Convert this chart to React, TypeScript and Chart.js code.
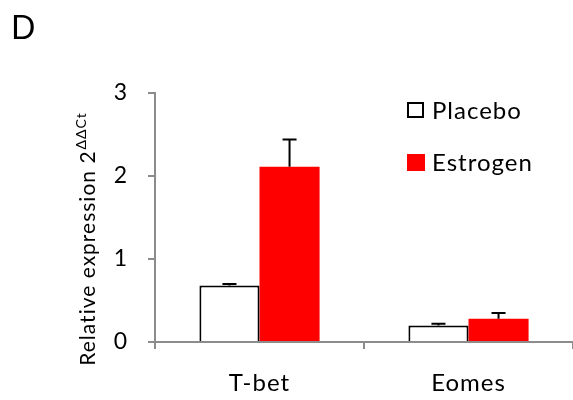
import React, { useEffect, useRef } from "react";
import { Chart, registerables } from "chart.js";

Chart.register(...registerables);

const categories = ["T-bet", "Eomes"];
const placeboValues = [0.68, 0.2];
const placeboErrors = [0.02, 0.02];
const estrogenValues = [2.11, 0.28];
const estrogenErrors = [0.33, 0.07];
const yTickValues = [0, 1, 2, 3];
const seriesLabels = ["Placebo", "Estrogen"];
const panelLetter = "D";
const yTitleMain = "Relative expression 2";
const yTitleSup = "ΔΔCt";

const FONT = "Lato, 'Open Sans', sans-serif";
const AXIS_GRAY = "#8c8c8c";

const spacingPlugin = {
  id: "spacing",
  beforeDraw(chart: any) {
    chart.ctx.letterSpacing = "1px";
  },
};

const errorBarPlugin = {
  id: "errorBars",
  afterDatasetsDraw(chart: any) {
    const ctx = chart.ctx;
    const y = chart.scales.y;
    chart.data.datasets.forEach((ds: any, di: number) => {
      const meta = chart.getDatasetMeta(di);
      meta.data.forEach((bar: any, i: number) => {
        const v = ds.data[i];
        const e = ds.errors[i];
        const yTop = y.getPixelForValue(v + e);
        const yBase = y.getPixelForValue(v);
        ctx.save();
        ctx.strokeStyle = "#000";
        ctx.lineWidth = 2;
        ctx.beginPath();
        ctx.moveTo(bar.x, yBase);
        ctx.lineTo(bar.x, yTop);
        ctx.moveTo(bar.x - 7, yTop);
        ctx.lineTo(bar.x + 7, yTop);
        ctx.stroke();
        ctx.restore();
      });
    });
  },
};

const decorPlugin = {
  id: "decor",
  afterDraw(chart: any) {
    const ctx = chart.ctx;
    ctx.save();
    ctx.letterSpacing = "0px";
    // panel letter
    ctx.fillStyle = "#000";
    ctx.font = `32px ${FONT}`;
    ctx.textBaseline = "alphabetic";
    ctx.textAlign = "left";
    ctx.fillText(panelLetter, 11, 39);

    // y title (rotated with superscript)
    ctx.letterSpacing = "1px";
    ctx.font = `21px ${FONT}`;
    const wMain = ctx.measureText(yTitleMain).width;
    ctx.font = `14px ${FONT}`;
    const wSup = ctx.measureText(yTitleSup).width;
    const total = wMain + wSup + 1;
    ctx.translate(95, 239);
    ctx.rotate(-Math.PI / 2);
    ctx.font = `21px ${FONT}`;
    ctx.fillText(yTitleMain, -total / 2, 0);
    ctx.font = `14px ${FONT}`;
    ctx.fillText(yTitleSup, -total / 2 + wMain + 1, -9);
    ctx.restore();

    // legend
    ctx.save();
    ctx.letterSpacing = "1px";
    const datasets = chart.data.datasets;
    ctx.font = `24px ${FONT}`;
    ctx.textBaseline = "middle";
    ctx.textAlign = "left";
    // placebo
    ctx.fillStyle = datasets[0].backgroundColor;
    ctx.fillRect(408, 103, 15, 14);
    ctx.strokeStyle = "#000";
    ctx.lineWidth = 2;
    ctx.strokeRect(408, 103, 15, 14);
    ctx.fillStyle = "#000";
    ctx.fillText(datasets[0].label, 432, 111);
    // estrogen
    ctx.fillStyle = datasets[1].backgroundColor;
    ctx.fillRect(407, 154, 18, 17);
    ctx.fillStyle = "#000";
    ctx.fillText(datasets[1].label, 432, 163);
    ctx.restore();
  },
};

export default function App() {
  const canvasRef = useRef<HTMLCanvasElement | null>(null);

  useEffect(() => {
    if (!canvasRef.current) return;
    const chart = new Chart(canvasRef.current, {
      type: "bar",
      data: {
        labels: categories,
        datasets: [
          {
            label: seriesLabels[0],
            data: placeboValues,
            errors: placeboErrors,
            backgroundColor: "#ffffff",
            borderColor: "#000000",
            borderWidth: 2,
          } as any,
          {
            label: seriesLabels[1],
            data: estrogenValues,
            errors: estrogenErrors,
            backgroundColor: "#ff0000",
            borderWidth: 0,
          } as any,
        ],
      },
      options: {
        responsive: false,
        animation: false,
        devicePixelRatio: 1,
        layout: { padding: { left: 100, top: 93, right: 0, bottom: 0 } },
        datasets: {
          bar: { categoryPercentage: 0.575, barPercentage: 1 },
        },
        plugins: {
          legend: { display: false },
          tooltip: { enabled: false },
          title: { display: false },
        },
        scales: {
          x: {
            grid: {
              display: true,
              drawOnChartArea: false,
              drawTicks: true,
              tickLength: 7,
              color: AXIS_GRAY,
              lineWidth: 2,
              offset: true,
            },
            border: { display: true, color: AXIS_GRAY, width: 2 },
            ticks: {
              color: "#000",
              font: { family: FONT, size: 24 },
              padding: 20,
            },
            afterFit(scale: any) {
              scale.height = 58;
            },
          },
          y: {
            min: 0,
            max: 3,
            afterBuildTicks(scale: any) {
              scale.ticks = yTickValues.map((v) => ({ value: v }));
            },
            grid: {
              display: true,
              drawOnChartArea: false,
              drawTicks: true,
              tickLength: 7,
              color: AXIS_GRAY,
              lineWidth: 2,
            },
            border: { display: true, color: AXIS_GRAY, width: 2 },
            ticks: {
              color: "#000",
              font: { family: FONT, size: 23 },
              padding: 20,
            },
            afterFit(scale: any) {
              scale.width = 55;
            },
          },
        },
      } as any,
      plugins: [spacingPlugin, errorBarPlugin, decorPlugin],
    });
    return () => chart.destroy();
  }, []);

  return (
    <div style={{ position: "absolute", left: 0, top: 0, width: 573, height: 400, background: "#fff" }}>
      <canvas ref={canvasRef} width={573} height={400} style={{ display: "block" }} />
    </div>
  );
}
